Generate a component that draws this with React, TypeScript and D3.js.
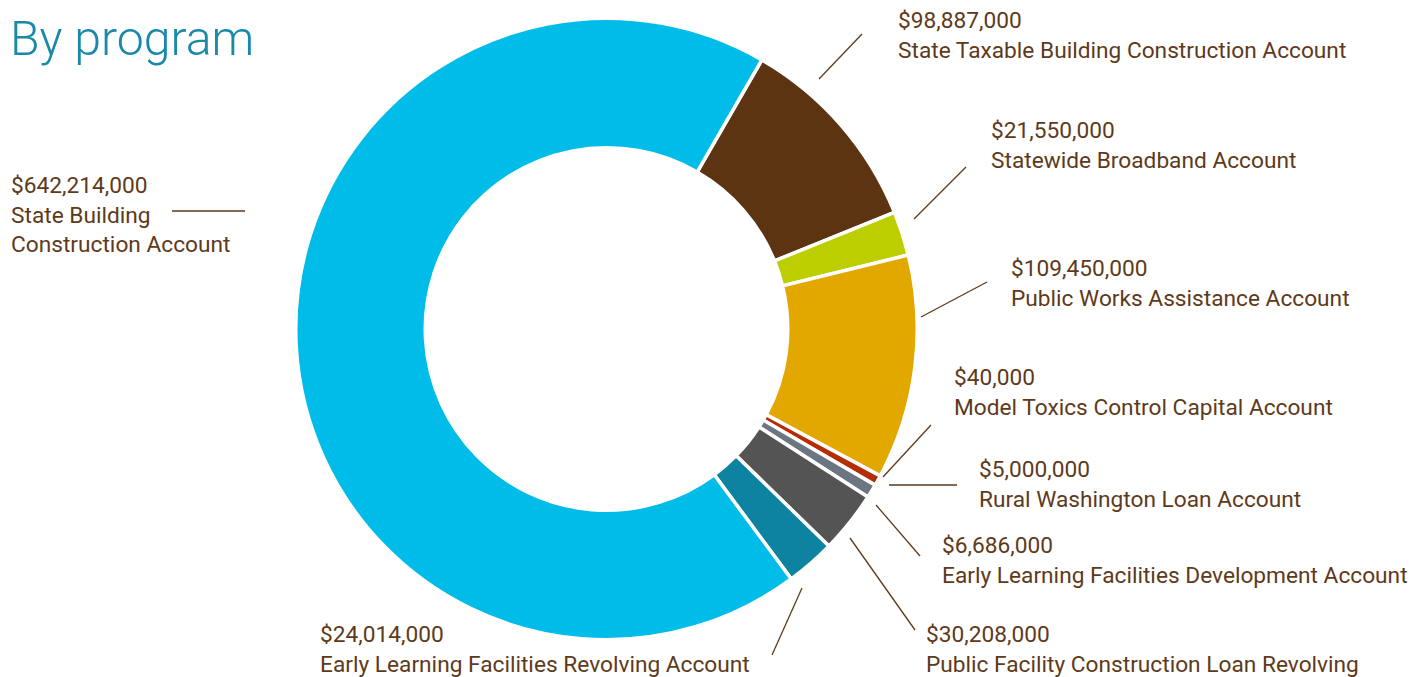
import React from "react";
import * as d3 from "d3";

// ---- data ----
const programs = [
  "State Taxable Building Construction Account",
  "Statewide Broadband Account",
  "Public Works Assistance Account",
  "Model Toxics Control Capital Account",
  "Rural Washington Loan Account",
  "Early Learning Facilities Development Account",
  "Public Facility Construction Loan Revolving",
  "Early Learning Facilities Revolving Account",
  "State Building Construction Account",
];
const amounts = [98887000, 21550000, 109450000, 40000, 5000000, 6686000, 30208000, 24014000, 642214000];
const colors = ["#5C3412", "#BCCE00", "#E2A800", "#B32D05", "#B32D05", "#6B7680", "#545454", "#0D83A1", "#00BCE8"];

// ---- layout (label positions, leader lines) ----
const labelLayout = [
  { x: 898, y: 28, lines: ["State Taxable Building Construction Account"], l: [819, 79, 862, 34] },
  { x: 991, y: 138, lines: ["Statewide Broadband Account"], l: [914, 219, 966, 167] },
  { x: 1011, y: 276, lines: ["Public Works Assistance Account"], l: [921, 317, 987, 282] },
  { x: 954, y: 385, lines: ["Model Toxics Control Capital Account"], l: [883, 477, 931, 425] },
  { x: 979, y: 477, lines: ["Rural Washington Loan Account"], l: [889, 485, 957, 485] },
  { x: 942, y: 553, lines: ["Early Learning Facilities Development Account"], l: [876, 505, 920, 556] },
  { x: 926, y: 642, lines: ["Public Facility Construction Loan Revolving"], l: [850, 538, 915, 630] },
  { x: 320, y: 642, lines: ["Early Learning Facilities Revolving Account"], l: [802, 588, 772, 655] },
  { x: 11, y: 193, lines: ["State Building", "Construction Account"], l: [172, 211, 245, 211] },
];

const W = 1428;
const H = 677;
const CX = 606.5;
const CY = 329;
const START = (30 * Math.PI) / 180;

export default function App() {
  const pie = d3
    .pie<number>()
    .sort(null)
    .value((d) => d)
    .startAngle(START)
    .endAngle(START + 2 * Math.PI);
  const arcs = pie(amounts);
  const arcGen = d3.arc<d3.PieArcDatum<number>>().innerRadius(181.25).outerRadius(310.75);
  const fmt = d3.format("$,");
  const textColor = "#5E3A1B";

  return (
    <svg
      width={W}
      height={H}
      style={{ position: "absolute", left: 0, top: 0, background: "#fff" }}
      fontFamily="Roboto, 'Noto Sans', sans-serif"
    >
      <text x={10} y={55} fontSize={48.2} fontWeight={300} fill="#1A89A8">
        By program
      </text>
      <g transform={`translate(${CX},${CY})`}>
        {arcs.map((a, i) => (
          <path key={i} d={arcGen(a) || ""} fill={colors[i]} stroke="#fff" strokeWidth={3.5} strokeLinejoin="miter" />
        ))}
      </g>
      {labelLayout.map((lb, i) => (
        <g key={"lb" + i}>
          <line x1={lb.l[0]} y1={lb.l[1]} x2={lb.l[2]} y2={lb.l[3]} stroke="#5E3A1B" strokeWidth={1.3} />
          <text x={lb.x} y={lb.y} fontSize={22.7} fill={textColor}>
            {fmt(amounts[i])}
          </text>
          {lb.lines.map((t, j) => (
            <text key={j} x={lb.x} y={lb.y + 29.5 * (j + 1)} fontSize={22.7} fill={textColor}>
              {t}
            </text>
          ))}
        </g>
      ))}
    </svg>
  );
}
